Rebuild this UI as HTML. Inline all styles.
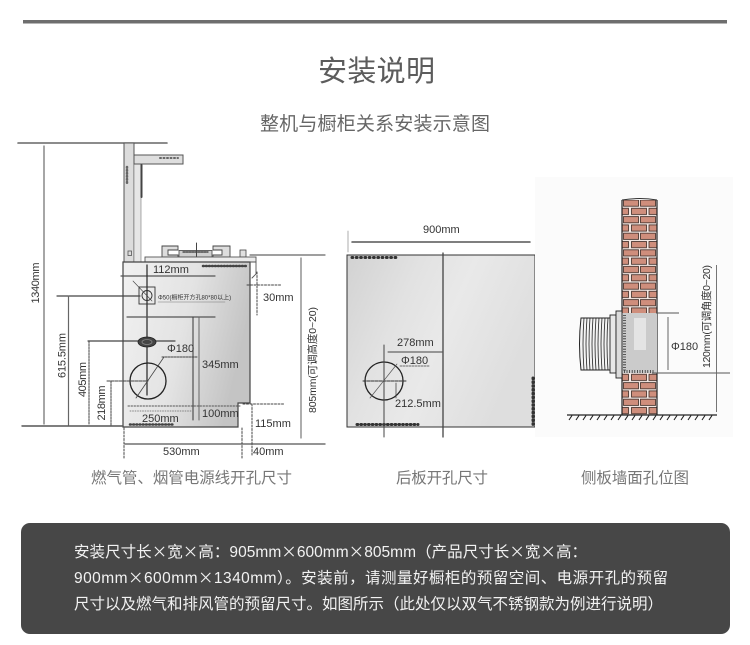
<!DOCTYPE html>
<html><head><meta charset="utf-8"><style>
html,body{margin:0;padding:0;background:#fff;}
svg{display:block;}
text{font-family:"Liberation Sans","Noto Sans CJK SC",sans-serif;}
.cj{font-family:"Noto Sans CJK SC",sans-serif;}
</style></head><body>
<svg width="750" height="645" viewBox="0 0 750 645" xmlns="http://www.w3.org/2000/svg">
<defs>
<linearGradient id="bodyG" x1="0" y1="0" x2="1" y2="0.3">
<stop offset="0" stop-color="#f1f1f1"/><stop offset="0.55" stop-color="#e3e3e3"/><stop offset="1" stop-color="#c4c4c4"/>
</linearGradient>
<linearGradient id="panG" x1="0" y1="0" x2="1" y2="0.4">
<stop offset="0" stop-color="#d2d2d2"/><stop offset="0.35" stop-color="#e2e2e2"/><stop offset="0.6" stop-color="#e9e9e9"/><stop offset="1" stop-color="#dedede"/>
</linearGradient>
<pattern id="brick" patternUnits="userSpaceOnUse" x="622" y="199" width="35" height="16.6">
<rect x="0" y="0" width="35" height="16.6" fill="#f4e8e4"/>
<rect x="1.5" y="1" width="15" height="6.2" fill="#cf8e7c" stroke="#3a2822" stroke-width="0.8"/>
<rect x="18.5" y="1" width="15" height="6.2" fill="#cf8e7c" stroke="#3a2822" stroke-width="0.8"/>
<rect x="-7" y="9.3" width="13.5" height="6.2" fill="#cf8e7c" stroke="#3a2822" stroke-width="0.8"/>
<rect x="9.5" y="9.3" width="15" height="6.2" fill="#cf8e7c" stroke="#3a2822" stroke-width="0.8"/>
<rect x="27" y="9.3" width="15" height="6.2" fill="#cf8e7c" stroke="#3a2822" stroke-width="0.8"/>
</pattern>
</defs>

<!-- top rule -->
<rect x="23" y="20" width="704" height="3.5" fill="#6e6e6e"/>
<text x="376.5" y="81" font-size="29" fill="#5c5c5c" text-anchor="middle" textLength="117">安装说明</text>
<text x="375" y="130" font-size="19" fill="#666" text-anchor="middle" textLength="230">整机与橱柜关系安装示意图</text>

<!-- ================= LEFT DIAGRAM ================= -->
<g stroke-linecap="round">
<line x1="18" y1="143" x2="167" y2="143" stroke="#666" stroke-width="1.6"/>
<line x1="44" y1="146" x2="44" y2="424" stroke="#777" stroke-width="1.3"/>
<rect x="124" y="143" width="10" height="119" fill="#dcdcdc" stroke="#555" stroke-width="1"/>
<rect x="134" y="164" width="7" height="98" fill="#e6e6e6" stroke="#777" stroke-width="0.6"/>
<path d="M134 155 H183 V164 H134 Z" fill="#dedede" stroke="#555" stroke-width="1"/>
<line x1="141.5" y1="165" x2="141.5" y2="197" stroke="#444" stroke-width="2"/>
<line x1="160" y1="158" x2="178" y2="158" stroke="#666" stroke-width="2" stroke-dasharray="1 2.5"/>
<line x1="127" y1="167" x2="127" y2="185" stroke="#666" stroke-width="2.5" stroke-dasharray="0.8 2.2"/>
<rect x="128" y="251" width="3.5" height="4.5" fill="none" stroke="#555" stroke-width="0.8"/>
<path d="M162 257 V246 H178 V250 H168 V255 H178 V257 Z" fill="#ddd" stroke="#444" stroke-width="0.9"/>
<path d="M230 257 V246 H213 V250 H222 V255 H213 V257 Z" fill="#ddd" stroke="#444" stroke-width="0.9"/>
<rect x="179" y="250.5" width="33" height="6.5" fill="#cfcfcf" stroke="#444" stroke-width="0.8"/>
<line x1="183" y1="252" x2="208" y2="252" stroke="#333" stroke-width="1.2" stroke-dasharray="2 1"/>
<line x1="196.5" y1="243" x2="196.5" y2="258" stroke="#444" stroke-width="1"/>
<rect x="240" y="250" width="6" height="7" fill="#e0e0e0" stroke="#444" stroke-width="0.8"/>
<rect x="145" y="257" width="111" height="5" fill="#ececec" stroke="#555" stroke-width="0.9"/>
<path d="M123 262 H250 V403 H238 V427 H123 Z" fill="url(#bodyG)" stroke="#444" stroke-width="1.2"/>
<path d="M250 262 H256 V274 L252 278" fill="none" stroke="#555" stroke-width="0.9"/>
<line x1="203" y1="266" x2="246" y2="266" stroke="#444" stroke-width="2.5" stroke-dasharray="0.8 2.2"/>
<line x1="130" y1="424.5" x2="174" y2="424.5" stroke="#444" stroke-width="2.5" stroke-dasharray="0.8 2.4"/>
<line x1="250" y1="255" x2="325" y2="255" stroke="#666" stroke-width="1.2"/>
<line x1="301" y1="258" x2="301" y2="438" stroke="#777" stroke-width="1.2"/>
<line x1="22" y1="426" x2="123" y2="426" stroke="#555" stroke-width="1.4"/>
<line x1="125" y1="444" x2="325" y2="444" stroke="#555" stroke-width="1.3"/>
<line x1="121" y1="276" x2="215" y2="276" stroke="#555" stroke-width="1.2"/>
<line x1="147" y1="265" x2="147" y2="395" stroke="#333" stroke-width="1.3"/>
<rect x="139" y="287" width="16" height="17" fill="none" stroke="#333" stroke-width="0.9"/>
<circle cx="147" cy="295.5" r="5" fill="none" stroke="#333" stroke-width="0.9"/>
<line x1="133" y1="281" x2="152" y2="301" stroke="#444" stroke-width="0.6"/>
<line x1="57" y1="296" x2="140" y2="296" stroke="#444" stroke-width="1.2"/>
<line x1="68.5" y1="296" x2="68.5" y2="425" stroke="#666" stroke-width="1.2"/>
<line x1="158" y1="302" x2="225" y2="302" stroke="#777" stroke-width="0.5"/>
<line x1="247" y1="285" x2="281" y2="285" stroke="#444" stroke-width="1" stroke-dasharray="2 1.5"/>
<line x1="257" y1="272" x2="257" y2="315" stroke="#444" stroke-width="1" stroke-dasharray="2 1.5"/>
<line x1="127" y1="317" x2="215" y2="317" stroke="#555" stroke-width="1.2"/>
<line x1="193" y1="317" x2="193" y2="420" stroke="#444" stroke-width="1.1"/>
<line x1="199" y1="317" x2="199" y2="420" stroke="#666" stroke-width="1"/>
<line x1="88" y1="341" x2="175" y2="341" stroke="#444" stroke-width="1.2"/>
<line x1="89" y1="341" x2="89" y2="425" stroke="#444" stroke-width="1" stroke-dasharray="2 1"/>
<ellipse cx="147" cy="342" rx="9" ry="5" fill="#444" stroke="#222" stroke-width="0.8"/>
<ellipse cx="147" cy="342" rx="5" ry="2.5" fill="none" stroke="#888" stroke-width="0.8"/>
<line x1="162" y1="357" x2="198" y2="357" stroke="#444" stroke-width="1" stroke-dasharray="2 1"/>
<circle cx="148" cy="381" r="18" fill="none" stroke="#222" stroke-width="1.3"/>
<line x1="136" y1="398" x2="164" y2="357" stroke="#444" stroke-width="0.8"/>
<line x1="107" y1="381" x2="148" y2="381" stroke="#444" stroke-width="1" stroke-dasharray="3 1"/>
<line x1="111" y1="381" x2="111" y2="425" stroke="#444" stroke-width="1" stroke-dasharray="2 1"/>
<line x1="128" y1="406" x2="240" y2="406" stroke="#555" stroke-width="1" stroke-dasharray="1.5 1.5"/>
<line x1="130" y1="411" x2="192" y2="411" stroke="#666" stroke-width="0.8" stroke-dasharray="1 1.5"/>
<line x1="243" y1="404" x2="285" y2="404" stroke="#444" stroke-width="1" stroke-dasharray="2 1.5"/>
<line x1="252" y1="404" x2="252" y2="456" stroke="#444" stroke-width="1" stroke-dasharray="2 1.5"/>
<line x1="124" y1="428" x2="124" y2="458" stroke="#444" stroke-width="1" stroke-dasharray="2 1.5"/>
<line x1="242" y1="428" x2="242" y2="458" stroke="#444" stroke-width="1" stroke-dasharray="2 1.5"/>
</g>
<g font-size="11" fill="#333">
<text x="153" y="273">112mm</text>
<text x="263" y="301">30mm</text>
<text x="158" y="299.5" font-size="6">Φ50(橱柜开方孔80*80以上)</text>
<text x="167" y="352">Φ180</text>
<text x="202" y="368">345mm</text>
<text x="202" y="417">100mm</text>
<text x="142" y="422">250mm</text>
<text x="255" y="427">115mm</text>
<text x="163" y="455">530mm</text>
<text x="253" y="455">40mm</text>
<text x="36" y="283" text-anchor="middle" dominant-baseline="central" transform="rotate(-90 36 283)" textLength="41">1340mm</text>
<text x="62.5" y="355.5" text-anchor="middle" dominant-baseline="central" transform="rotate(-90 62.5 355.5)" textLength="45">615.5mm</text>
<text x="83" y="379.5" text-anchor="middle" dominant-baseline="central" transform="rotate(-90 83 379.5)" textLength="35">405mm</text>
<text x="102" y="403" text-anchor="middle" dominant-baseline="central" transform="rotate(-90 102 403)" textLength="35">218mm</text>
<text x="313" y="360" font-size="10.5" text-anchor="middle" dominant-baseline="central" transform="rotate(-90 313 360)" textLength="106">805mm(可调高度0~20)</text>
</g>

<!-- ================= MIDDLE DIAGRAM ================= -->
<g stroke-linecap="round">
<line x1="348" y1="231" x2="348" y2="252" stroke="#999" stroke-width="0.8"/>
<line x1="536" y1="231" x2="536" y2="252" stroke="#999" stroke-width="0.8"/>
<line x1="352" y1="242" x2="530" y2="242" stroke="#555" stroke-width="1.5"/>
<rect x="347" y="255" width="188" height="172" fill="url(#panG)" stroke="#333" stroke-width="1"/>
<line x1="443" y1="253" x2="443" y2="437" stroke="#444" stroke-width="1.3"/>
<line x1="352" y1="257.5" x2="396" y2="257.5" stroke="#333" stroke-width="3" stroke-dasharray="0.8 3.5"/>
<line x1="357" y1="424.5" x2="418" y2="424.5" stroke="#333" stroke-width="3" stroke-dasharray="0.8 3"/>
<line x1="533" y1="378" x2="533" y2="425" stroke="#333" stroke-width="3" stroke-dasharray="0.8 3"/>
<circle cx="384" cy="381" r="19" fill="none" stroke="#222" stroke-width="1.3"/>
<line x1="384" y1="345" x2="384" y2="437" stroke="#444" stroke-width="1"/>
<line x1="363" y1="381" x2="407" y2="381" stroke="#333" stroke-width="1" stroke-dasharray="3 1"/>
<line x1="370" y1="398" x2="397" y2="364" stroke="#555" stroke-width="0.7"/>
<line x1="388" y1="352" x2="442" y2="352" stroke="#444" stroke-width="1"/>
<line x1="400" y1="366" x2="430" y2="366" stroke="#444" stroke-width="0.8" stroke-dasharray="2 1"/>
<line x1="396" y1="383" x2="396" y2="398" stroke="#444" stroke-width="0.8"/>
</g>
<g font-size="11" fill="#333">
<text x="423" y="233">900mm</text>
<text x="397" y="346">278mm</text>
<text x="401" y="364">Φ180</text>
<text x="395" y="407">212.5mm</text>
</g>

<!-- ================= RIGHT DIAGRAM ================= -->
<rect x="535" y="177" width="198" height="260" fill="#fbfbfb"/>
<rect x="622" y="200" width="35" height="113" fill="url(#brick)"/>
<rect x="622" y="373" width="35" height="42" fill="url(#brick)"/>
<path d="M622 200 Q640 197 657 200" fill="none" stroke="#333" stroke-width="1"/>
<line x1="622" y1="200" x2="622" y2="415" stroke="#222" stroke-width="1.2"/>
<line x1="657" y1="200" x2="657" y2="415" stroke="#222" stroke-width="1.2"/>
<rect x="622" y="313" width="35" height="60" fill="#cbcbcb"/>
<rect x="634" y="318" width="12" height="32" fill="#e4e4e4"/>
<line x1="624.5" y1="315" x2="624.5" y2="371" stroke="#333" stroke-width="3" stroke-dasharray="0.8 1.8"/>
<line x1="624" y1="371.5" x2="655" y2="371.5" stroke="#333" stroke-width="3" stroke-dasharray="0.8 1.8"/>
<path d="M581 318 Q578 344 581 370 H615 V318 Z" fill="#f3f3f3" stroke="#222" stroke-width="1"/>
<g stroke="#222" stroke-width="0.8" fill="none">
<path d="M584 318 Q582 344 584 370"/><path d="M587 318 Q585 344 587 370"/><path d="M590 318 Q588 344 590 370"/>
<path d="M593 318 Q591 344 593 370"/><path d="M596 318 Q594 344 596 370"/><path d="M599 318 Q597 344 599 370"/>
<path d="M602 318 Q600 344 602 370"/><path d="M605 318 Q603 344 605 370"/><path d="M608 318 Q606 344 608 370"/>
</g>
<rect x="610" y="315" width="6" height="58" fill="#e8e8e8" stroke="#222" stroke-width="0.9"/>
<rect x="616" y="311" width="6" height="67" fill="#dcdcdc" stroke="#222" stroke-width="0.9"/>
<line x1="567" y1="415" x2="717" y2="415" stroke="#222" stroke-width="1.3"/>
<path d="M572 415.5 l-3 4.5 M579 415.5 l-3 4.5 M586 415.5 l-3 4.5 M593 415.5 l-3 4.5 M600 415.5 l-3 4.5 M607 415.5 l-3 4.5 M614 415.5 l-3 4.5 M621 415.5 l-3 4.5 M628 415.5 l-3 4.5 M635 415.5 l-3 4.5 M642 415.5 l-3 4.5 M649 415.5 l-3 4.5 M656 415.5 l-3 4.5 M663 415.5 l-3 4.5 M670 415.5 l-3 4.5 M677 415.5 l-3 4.5 M684 415.5 l-3 4.5 M691 415.5 l-3 4.5 M698 415.5 l-3 4.5 M705 415.5 l-3 4.5 M712 415.5 l-3 4.5" stroke="#222" stroke-width="1.1" fill="none"/>
<line x1="656" y1="313" x2="679" y2="313" stroke="#555" stroke-width="0.9"/>
<line x1="652" y1="373" x2="730" y2="373" stroke="#555" stroke-width="0.9"/>
<line x1="668" y1="317" x2="668" y2="370" stroke="#555" stroke-width="0.9"/>
<line x1="716.5" y1="265" x2="716.5" y2="412" stroke="#666" stroke-width="0.9"/>
<g font-size="11" fill="#333">
<text x="671" y="350">Φ180</text>
<text x="707" y="316.5" font-size="10.5" text-anchor="middle" dominant-baseline="central" transform="rotate(-90 707 316.5)" textLength="103">120mm(可调角度0~20)</text>
</g>

<!-- captions -->
<g font-size="15.5" fill="#777">
<text x="91" y="483" textLength="201">燃气管、烟管电源线开孔尺寸</text>
<text x="396" y="483" textLength="92">后板开孔尺寸</text>
<text x="581" y="483" textLength="108">侧板墙面孔位图</text>
</g>

<!-- text box -->
<rect x="21" y="523" width="709" height="111" rx="9" ry="9" fill="#474747"/>
<g font-size="15.5" fill="#f2f2f2">
<text x="74" y="557" textLength="513">安装尺寸长<tspan class="cj">×</tspan>宽<tspan class="cj">×</tspan>高：905mm<tspan class="cj">×</tspan>600mm<tspan class="cj">×</tspan>805mm（产品尺寸长<tspan class="cj">×</tspan>宽<tspan class="cj">×</tspan>高：</text>
<text x="74" y="583" textLength="594">900mm<tspan class="cj">×</tspan>600mm<tspan class="cj">×</tspan>1340mm）。安装前，请测量好橱柜的预留空间、电源开孔的预留</text>
<text x="74" y="609" textLength="589">尺寸以及燃气和排风管的预留尺寸。如图所示（此处仅以双气不锈钢款为例进行说明）</text>
</g>
</svg>
</body></html>
